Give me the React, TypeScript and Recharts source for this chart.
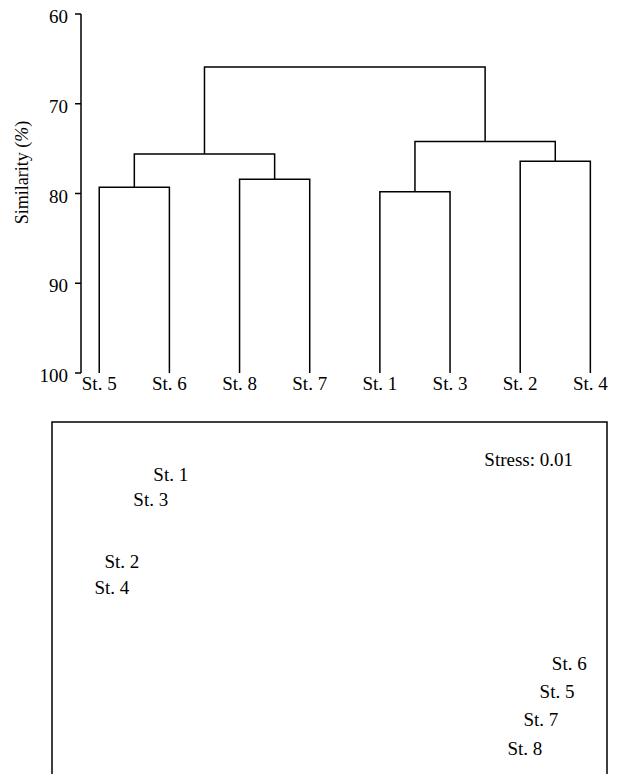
import React from "react";
import { ReferenceArea, Scatter, ScatterChart, XAxis, YAxis } from "recharts";

// dendrogram: leaf order and merges (node ids: leaves 0-7, merges 8+)
const leafLabels = ["St. 5", "St. 6", "St. 8", "St. 7", "St. 1", "St. 3", "St. 2", "St. 4"];
const mergePairs = [
  [0, 1],
  [2, 3],
  [4, 5],
  [6, 7],
  [8, 9],
  [10, 11],
  [12, 13],
];
const mergeSimilarity = [79.3, 78.4, 79.8, 76.4, 75.6, 74.2, 65.9];
const similarityTicks = [60, 70, 80, 90, 100];

// MDS ordination
const mdsStations = ["St. 1", "St. 3", "St. 2", "St. 4", "St. 6", "St. 5", "St. 7", "St. 8"];
const mdsX = [21.4, 17.8, 12.6, 10.8, 93.2, 91.0, 88.1, 85.2];
const mdsY = [86.2, 79.4, 63.2, 56.3, 36.2, 28.6, 21.2, 13.5];
const stressValue = "0.01";

const FONT = '"Liberation Serif", "Times New Roman", serif';

const nodeX: number[] = leafLabels.map((_, i) => i);
const nodeY: number[] = leafLabels.map(() => 100);
mergePairs.forEach(([a, b], i) => {
  nodeX.push((nodeX[a] + nodeX[b]) / 2);
  nodeY.push(mergeSimilarity[i]);
});

const links = mergePairs.map(([a, b], i) => [
  { x: nodeX[a], y: nodeY[a] },
  { x: nodeX[a], y: mergeSimilarity[i] },
  { x: nodeX[b], y: mergeSimilarity[i] },
  { x: nodeX[b], y: nodeY[b] },
]);

const mdsData = mdsStations.map((name, i) => ({ name, x: mdsX[i], y: mdsY[i] }));

const LeafTick = (props: any) => {
  const { x, y, payload } = props;
  return (
    <text x={x} y={y + 17} textAnchor="middle" fontFamily={FONT} fontSize={19} fill="#000">
      {leafLabels[payload.value]}
    </text>
  );
};

const SimTick = (props: any) => {
  const { x, y, payload } = props;
  return (
    <text x={x} y={y + 9} textAnchor="end" fontFamily={FONT} fontSize={19} fill="#000">
      {payload.value}
    </text>
  );
};

const SimLabel = (props: any) => {
  const { viewBox } = props;
  const cx = viewBox.x + 22;
  const cy = viewBox.y + viewBox.height / 2 - 21;
  return (
    <text
      x={cx}
      y={cy}
      transform={`rotate(-90, ${cx}, ${cy})`}
      textAnchor="middle"
      dominantBaseline="central"
      fontFamily={FONT}
      fontSize={18}
      fill="#000"
    >
      Similarity (<tspan fontStyle="italic">%</tspan>)
    </text>
  );
};

const StationLabel = (props: any) => {
  const { cx, cy, payload } = props;
  return (
    <text x={cx} y={cy} textAnchor="middle" dominantBaseline="central" fontFamily={FONT} fontSize={19} fill="#000">
      {payload.name}
    </text>
  );
};

const StressLabel = (props: any) => {
  const { viewBox } = props;
  return (
    <text
      x={viewBox.x + viewBox.width - 34}
      y={viewBox.y + 44}
      textAnchor="end"
      fontFamily={FONT}
      fontSize={19}
      fill="#000"
    >
      Stress: {stressValue}
    </text>
  );
};

export default function App() {
  return (
    <div
      style={{
        position: "absolute",
        left: 0,
        top: 0,
        width: 619,
        height: 774,
        overflow: "hidden",
        background: "#fff",
        fontFamily: FONT,
      }}
    >
      <ScatterChart width={619} height={400} margin={{ top: 14, right: 9, bottom: 0, left: 0 }}>
        <XAxis
          type="number"
          dataKey="x"
          domain={[-0.26, 7.28]}
          allowDataOverflow
          ticks={leafLabels.map((_, i) => i)}
          interval={0}
          tick={<LeafTick />}
          tickSize={0}
          tickMargin={0}
          axisLine={false}
          tickLine={false}
          height={27}
        />
        <YAxis
          type="number"
          dataKey="y"
          domain={[60, 100]}
          reversed
          allowDataOverflow
          ticks={similarityTicks}
          interval={0}
          width={81}
          tickSize={6}
          tickMargin={7}
          tick={<SimTick />}
          axisLine={{ stroke: "#000", strokeWidth: 1.5 }}
          tickLine={{ stroke: "#000", strokeWidth: 1.5 }}
          label={<SimLabel />}
        />
        {links.map((pts, i) => (
          <Scatter
            key={i}
            data={pts}
            line={{ stroke: "#000", strokeWidth: 1.5 }}
            lineType="joint"
            shape={() => <g />}
            fill="none"
            isAnimationActive={false}
          />
        ))}
      </ScatterChart>

      <ScatterChart width={619} height={420} margin={{ top: 22, right: 12, bottom: 20, left: 52 }}>
        <XAxis type="number" dataKey="x" domain={[0, 100]} allowDataOverflow hide />
        <YAxis type="number" dataKey="y" domain={[0, 100]} allowDataOverflow hide />
        <ReferenceArea
          x1={0}
          x2={100}
          y1={0}
          y2={100}
          fill="none"
          stroke="#000"
          strokeWidth={1.5}
          label={<StressLabel />}
        />
        <Scatter data={mdsData} shape={<StationLabel />} isAnimationActive={false} />
      </ScatterChart>
    </div>
  );
}
